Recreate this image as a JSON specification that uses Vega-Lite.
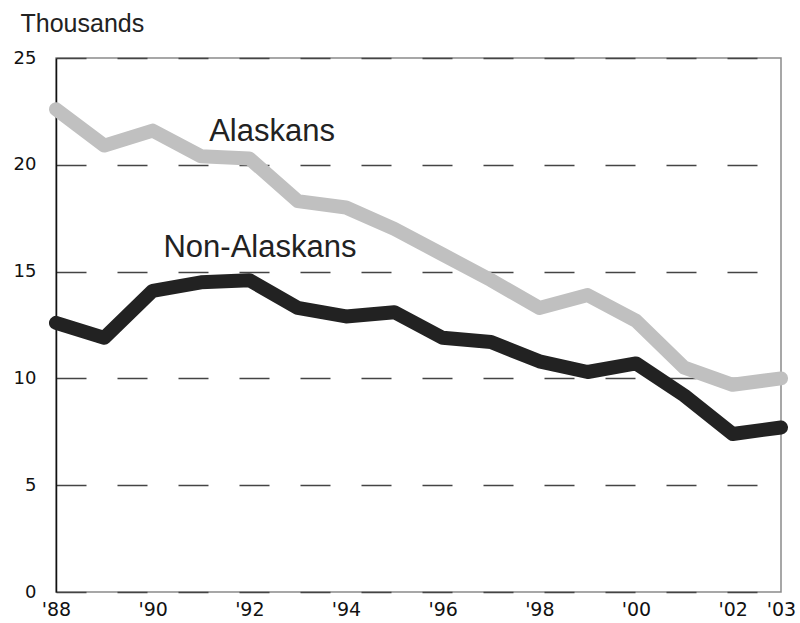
{
  "$schema": "https://vega.github.io/schema/vega-lite/v6.json",
  "width": 725,
  "height": 534,
  "autosize": {"type": "none"},
  "padding": {"left": 56, "top": 58, "right": 19, "bottom": 31},
  "background": "white",
  "config": {
    "view": {"stroke": "#8a8a8a", "strokeWidth": 1.5},
    "font": "Liberation Sans"
  },
  "datasets": {
    "series": [
      {"year": 1988, "group": "Alaskans", "value": 22.6},
      {"year": 1989, "group": "Alaskans", "value": 20.9},
      {"year": 1990, "group": "Alaskans", "value": 21.6},
      {"year": 1991, "group": "Alaskans", "value": 20.4},
      {"year": 1992, "group": "Alaskans", "value": 20.3},
      {"year": 1993, "group": "Alaskans", "value": 18.3},
      {"year": 1994, "group": "Alaskans", "value": 18.0},
      {"year": 1995, "group": "Alaskans", "value": 17.0},
      {"year": 1996, "group": "Alaskans", "value": 15.8},
      {"year": 1997, "group": "Alaskans", "value": 14.6},
      {"year": 1998, "group": "Alaskans", "value": 13.3},
      {"year": 1999, "group": "Alaskans", "value": 13.9},
      {"year": 2000, "group": "Alaskans", "value": 12.7},
      {"year": 2001, "group": "Alaskans", "value": 10.5},
      {"year": 2002, "group": "Alaskans", "value": 9.7},
      {"year": 2003, "group": "Alaskans", "value": 10.0},
      {"year": 1988, "group": "Non-Alaskans", "value": 12.6},
      {"year": 1989, "group": "Non-Alaskans", "value": 11.9},
      {"year": 1990, "group": "Non-Alaskans", "value": 14.1},
      {"year": 1991, "group": "Non-Alaskans", "value": 14.5},
      {"year": 1992, "group": "Non-Alaskans", "value": 14.6},
      {"year": 1993, "group": "Non-Alaskans", "value": 13.3},
      {"year": 1994, "group": "Non-Alaskans", "value": 12.9},
      {"year": 1995, "group": "Non-Alaskans", "value": 13.1},
      {"year": 1996, "group": "Non-Alaskans", "value": 11.9},
      {"year": 1997, "group": "Non-Alaskans", "value": 11.7},
      {"year": 1998, "group": "Non-Alaskans", "value": 10.8},
      {"year": 1999, "group": "Non-Alaskans", "value": 10.3},
      {"year": 2000, "group": "Non-Alaskans", "value": 10.7},
      {"year": 2001, "group": "Non-Alaskans", "value": 9.2},
      {"year": 2002, "group": "Non-Alaskans", "value": 7.4},
      {"year": 2003, "group": "Non-Alaskans", "value": 7.7}
    ],
    "labels": [
      {"year": 1992.47, "value": 21.1, "text": "Alaskans"},
      {"year": 1992.22, "value": 15.68, "text": "Non-Alaskans"}
    ]
  },
  "encoding": {
    "x": {
      "field": "year",
      "type": "quantitative",
      "scale": {"domain": [1988, 2003], "nice": false, "zero": false},
      "axis": {
        "values": [1988, 1990, 1992, 1994, 1996, 1998, 2000, 2002, 2003],
        "labelExpr": "\"'\" + substring(toString(datum.value), 2)",
        "title": null,
        "grid": false,
        "ticks": false,
        "domain": false,
        "labelFont": "DejaVu Sans",
        "labelFontSize": 19,
        "labelColor": "#111111",
        "labelPadding": 8,
        "labelFlush": false,
        "labelOverlap": false
      }
    },
    "y": {
      "field": "value",
      "type": "quantitative",
      "scale": {"domain": [0, 25], "nice": false},
      "axis": {
        "values": [0, 5, 10, 15, 20, 25],
        "title": "Thousands",
        "titleAngle": 0,
        "titleAlign": "left",
        "titleBaseline": "alphabetic",
        "titleX": -36,
        "titleY": -27,
        "titleFont": "Liberation Sans",
        "titleFontSize": 25,
        "titleFontWeight": "normal",
        "titleColor": "#222222",
        "grid": true,
        "gridDash": [30, 31],
        "gridColor": "#444444",
        "gridWidth": 1.5,
        "ticks": false,
        "domain": true,
        "domainColor": "#111111",
        "domainWidth": 1.5,
        "labelFont": "DejaVu Sans",
        "labelFontSize": 18,
        "labelColor": "#111111",
        "labelPadding": 20,
        "labelFlush": false
      }
    }
  },
  "layer": [
    {
      "data": {"name": "series"},
      "mark": {"type": "line", "strokeWidth": 14, "strokeCap": "round", "strokeJoin": "round"},
      "encoding": {
        "color": {
          "field": "group",
          "type": "nominal",
          "scale": {"domain": ["Alaskans", "Non-Alaskans"], "range": ["#c0c0c0", "#222222"]},
          "legend": null
        }
      }
    },
    {
      "data": {"name": "labels"},
      "mark": {"type": "text", "font": "Liberation Sans", "fontSize": 31, "color": "#222222", "align": "center", "baseline": "alphabetic"},
      "encoding": {
        "text": {"field": "text", "type": "nominal"}
      }
    }
  ]
}
